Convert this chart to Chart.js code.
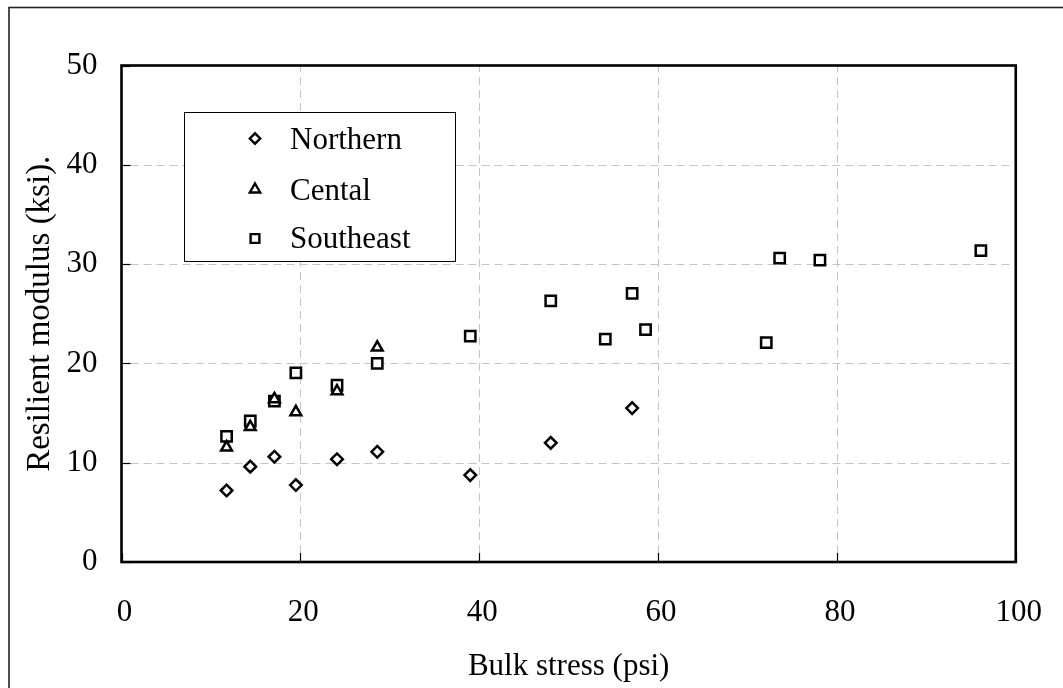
<!DOCTYPE html>
<html>
<head>
<meta charset="utf-8">
<script src="https://cdn.jsdelivr.net/npm/chart.js@4.4.0/dist/chart.umd.min.js"></script>
<style>
  html, body { margin: 0; padding: 0; background: #fff; }
  canvas { display: block; }
</style>
</head>
<body>
<canvas id="grafico" width="1063" height="688"></canvas>
<script>
// Módulo resiliente x tensão volumétrica, por região

var seriesNames = ['Northern', 'Cental', 'Southeast'];

// Northern (losangos)
var bulkNorthern = [11.75, 14.4, 17.1, 19.5, 24.1, 28.6, 39.0, 48.0, 57.1];
var modNorthern  = [7.2, 9.6, 10.6, 7.75, 10.35, 11.1, 8.75, 12.0, 15.5];

// Cental (triângulos)
var bulkCentral = [11.75, 14.4, 17.1, 19.5, 24.1, 28.6];
var modCentral  = [11.55, 13.6, 16.4, 15.1, 17.2, 21.6];

// Southeast (quadrados)
var bulkSoutheast = [11.75, 14.4, 17.1, 19.5, 24.1, 28.6, 39.0, 48.0, 54.1, 57.1, 58.6, 72.1, 73.6, 78.1, 96.1];
var modSoutheast  = [12.65, 14.2, 16.2, 19.05, 17.8, 20.0, 22.75, 26.3, 22.45, 27.05, 23.4, 22.1, 30.6, 30.4, 31.35];

var xTicks = [0, 20, 40, 60, 80, 100];
var yTicks = [0, 10, 20, 30, 40, 50];

var fonte = 'Liberation Serif, Times New Roman, serif';

function pares(xs, ys) {
  return xs.map(function (v, i) { return { x: v, y: ys[i] }; });
}

// estilo dos marcadores (gráfico e legenda usam o mesmo)
var estilos = [
  { pointStyle: 'rectRot', radius: 5.8, legendRadius: 5.2 },
  { pointStyle: 'triangle', radius: 6.2, legendRadius: 6 },
  { pointStyle: 'rect', radius: 7.3, legendRadius: 6.2 }
];

// Fundo branco + moldura externa
var moldura = {
  id: 'moldura',
  beforeDraw: function (chart) {
    var ctx = chart.ctx;
    ctx.save();
    ctx.fillStyle = '#fff';
    ctx.fillRect(0, 0, chart.width, chart.height);
    ctx.strokeStyle = '#222';
    ctx.lineWidth = 1.6;
    ctx.strokeRect(9, 7.5, chart.width + 20, chart.height + 20);
    ctx.restore();
  }
};

// Grade tracejada, marcas para dentro, borda da área e legenda
var grade = {
  id: 'grade',
  beforeDatasetsDraw: function (chart) {
    var ctx = chart.ctx, a = chart.chartArea;
    var sx = chart.scales.x, sy = chart.scales.y;
    var tam = 9;
    ctx.save();

    ctx.strokeStyle = '#c4c4c4';
    ctx.lineWidth = 1;
    ctx.setLineDash([8, 5]);
    xTicks.forEach(function (v) {
      if (v <= xTicks[0] || v >= xTicks[xTicks.length - 1]) return;
      var px = Math.round(sx.getPixelForValue(v)) + 0.5;
      ctx.beginPath(); ctx.moveTo(px, a.bottom - tam); ctx.lineTo(px, a.top); ctx.stroke();
    });
    yTicks.forEach(function (v) {
      if (v <= yTicks[0] || v >= yTicks[yTicks.length - 1]) return;
      var py = Math.round(sy.getPixelForValue(v)) + 0.5;
      ctx.beginPath(); ctx.moveTo(a.left + tam, py); ctx.lineTo(a.right, py); ctx.stroke();
    });

    ctx.setLineDash([]);
    ctx.strokeStyle = '#000';
    ctx.lineWidth = 1.2;
    xTicks.forEach(function (v) {
      var px = Math.round(sx.getPixelForValue(v)) + 0.5;
      ctx.beginPath(); ctx.moveTo(px, a.bottom); ctx.lineTo(px, a.bottom - tam); ctx.stroke();
    });
    yTicks.forEach(function (v) {
      var py = Math.round(sy.getPixelForValue(v)) + 0.5;
      ctx.beginPath(); ctx.moveTo(a.left, py); ctx.lineTo(a.left + tam, py); ctx.stroke();
    });

    ctx.lineWidth = 2.6;
    ctx.strokeRect(a.left, a.top, a.right - a.left, a.bottom - a.top);

    // legenda
    var lx = 184.5, ly = 112.5, lw = 271, lh = 149;
    ctx.fillStyle = '#fff';
    ctx.fillRect(lx, ly, lw, lh);
    ctx.lineWidth = 1;
    ctx.strokeStyle = '#000';
    ctx.strokeRect(lx, ly, lw, lh);
    var linhas = [149, 199.5, 248];
    var marcas = [138.5, 189.5, 238.5];
    ctx.font = '31px ' + fonte;
    ctx.textBaseline = 'alphabetic';
    ctx.textAlign = 'left';
    seriesNames.forEach(function (nome, i) {
      ctx.fillStyle = '#000';
      ctx.fillText(nome, 290, linhas[i]);
      ctx.fillStyle = '#fff';
      ctx.strokeStyle = '#000';
      ctx.lineWidth = 2.4;
      Chart.helpers.drawPoint(ctx, {
        pointStyle: estilos[i].pointStyle,
        radius: estilos[i].legendRadius,
        rotation: 0,
        borderWidth: 2.4
      }, 255, marcas[i]);
    });

    ctx.restore();
  }
};

var datasets = [modNorthern, modCentral, modSoutheast].map(function (ys, i) {
  var xs = [bulkNorthern, bulkCentral, bulkSoutheast][i];
  return {
    label: seriesNames[i],
    data: pares(xs, ys),
    pointStyle: estilos[i].pointStyle,
    pointRadius: estilos[i].radius,
    pointBackgroundColor: '#fff',
    pointBorderColor: '#000',
    pointBorderWidth: 2.5,
    showLine: false
  };
});

var ctx = document.getElementById('grafico').getContext('2d');
var grafico = new Chart(ctx, {
  type: 'scatter',
  data: { datasets: datasets },
  options: {
    responsive: false,
    animation: false,
    devicePixelRatio: 1,
    layout: { padding: { left: 0, top: 65.5, right: 46, bottom: 0 } },
    plugins: {
      legend: { display: false },
      tooltip: { enabled: false }
    },
    scales: {
      x: {
        type: 'linear',
        min: xTicks[0],
        max: xTicks[xTicks.length - 1],
        afterBuildTicks: function (s) { s.ticks = xTicks.map(function (v) { return { value: v }; }); },
        afterFit: function (s) { s.height = 126; },
        grid: { display: false },
        border: { display: false },
        ticks: {
          color: '#000',
          font: { family: fonte, size: 31 },
          padding: 24,
          labelOffset: 3,
          maxRotation: 0
        },
        title: {
          display: true,
          text: 'Bulk stress (psi)',
          color: '#000',
          font: { family: fonte, size: 31 },
          padding: { top: 0, bottom: 3 }
        }
      },
      y: {
        type: 'linear',
        min: yTicks[0],
        max: yTicks[yTicks.length - 1],
        afterBuildTicks: function (s) { s.ticks = yTicks.map(function (v) { return { value: v }; }); },
        afterFit: function (s) { s.width = 121.5; },
        grid: { display: false },
        border: { display: false },
        ticks: {
          color: '#000',
          font: { family: fonte, size: 31 },
          padding: 16
        },
        title: {
          display: true,
          text: 'Resilient modulus (ksi).',
          color: '#000',
          font: { family: fonte, size: 33 },
          padding: { top: 21, bottom: 0 }
        }
      }
    }
  },
  plugins: [moldura, grade]
});
</script>
</body>
</html>
